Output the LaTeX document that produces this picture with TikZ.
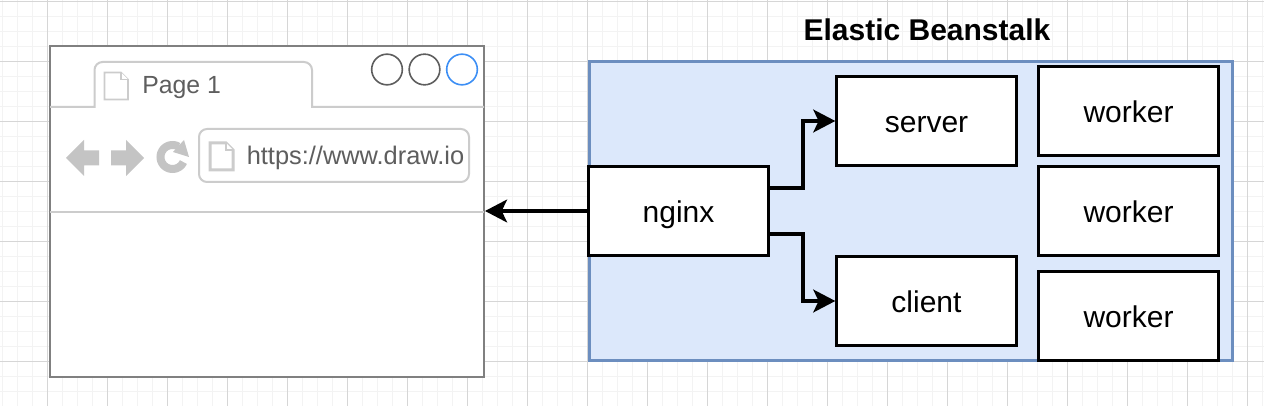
\documentclass[tikz,border=0pt]{standalone}
\usepackage{fontspec}
\setmainfont{Liberation Sans}
\usetikzlibrary{arrows.meta,calc}
\definecolor{gridminor}{HTML}{F3F3F3}
\definecolor{gridmajor}{HTML}{D6D6D6}
\definecolor{chrome}{HTML}{CCCCCC}
\definecolor{iconfill}{HTML}{C4C4C4}
\definecolor{txtgray}{HTML}{5E5E5E}
\definecolor{framegray}{HTML}{808080}
\definecolor{ebfill}{HTML}{DCE8FB}
\definecolor{ebline}{HTML}{6C8EBF}
\definecolor{btnblue}{HTML}{3D8FF5}
\tikzset{
  x=0.75pt, y=-0.75pt,
  boxnode/.style={draw=black, fill=white, line width=2.25pt, minimum width=134.5pt, minimum height=66.5pt, inner sep=0pt, text height=20.8pt, text depth=4pt, font=\fontsize{22.5}{26}\selectfont, text=black},
  conn/.style={draw=black, line width=3pt, -{Stealth[length=16.5pt,width=17pt,inset=4pt]}},
  winbtn/.style={draw=txtgray, line width=1.2pt, fill=white, circle, minimum size=23pt, inner sep=0pt},
  chromeline/.style={draw=chrome, line width=1.5pt},
  docicon/.style={draw=chrome, fill=white, line join=miter},
  navicon/.style={fill=iconfill, draw=none},
  graytext/.style={text=txtgray, inner sep=0pt, font=\fontsize{18.6}{22}\selectfont},
}
\begin{document}
\begin{tikzpicture}
\useasboundingbox (0,0) rectangle (1264,406);
\fill[white] (0,0) rectangle (1264,406);
% grid
\foreach \i in {0,...,84} {\draw[gridminor,line width=0.75pt] ({2.5+15*\i},0) -- ({2.5+15*\i},406);}
\foreach \i in {0,...,27} {\draw[gridminor,line width=0.75pt] (0,{1.5+15*\i}) -- (1264,{1.5+15*\i});}
\foreach \i in {0,...,20} {\draw[gridmajor,line width=0.75pt] ({47.5+60*\i},0) -- ({47.5+60*\i},406);}
\foreach \i in {0,...,6} {\draw[gridmajor,line width=0.75pt] (0,{1.5+60*\i}) -- (1264,{1.5+60*\i});}
% browser
\node[draw=framegray, fill=white, line width=1.5pt, minimum width=325.5pt, minimum height=248.25pt, inner sep=0pt] (browser) at (267,211.5) {};
\draw[chromeline] (50,107) -- (94.5,107) -- (94.5,70) arc[start angle=180,end angle=90,x radius=8,y radius=-8] -- (304,62) arc[start angle=90,end angle=0,x radius=8,y radius=-8] -- (312,107) -- (484,107);
\draw[chromeline] (50,212) -- (484,212);
\draw[docicon,line width=1.2pt] (104.5,72.5) -- (121,72.5) -- (128,79.5) -- (128,99.5) -- (104.5,99.5) -- cycle;
\draw[docicon,line width=0.8pt] (121,72.5) -- (121,79.5) -- (128,79.5);
\node[graytext, anchor=base west] (pagetext) at (142,94) {Page 1};
\node[winbtn] (btna) at (387,69.5) {};
\node[winbtn] (btnb) at (424.5,69.5) {};
\node[winbtn, draw=btnblue] (btnc) at (462,69.5) {};
% nav icons
\fill[navicon] (66,158) -- (84,140) -- (84,150.5) -- (99,150.5) -- (99,165.5) -- (84,165.5) -- (84,176) -- cycle;
\fill[navicon] (144,158) -- (126,140) -- (126,150.5) -- (111,150.5) -- (111,165.5) -- (126,165.5) -- (126,176) -- cycle;
\draw[iconfill,line width=6pt] plot[domain=-25:-300,samples=40,smooth] ({172.5+12*cos(\x)},{157-12*sin(\x)});
\fill[navicon] (184,140) -- (189,157) -- (173,152) -- cycle;
% url bar
\draw[chromeline, fill=white, rounded corners=6pt] (199,129) rectangle (469,182);
\draw[docicon,line width=2.25pt] (210,143) -- (226,143) -- (233,150) -- (233,170) -- (210,170) -- cycle;
\draw[docicon,line width=0.8pt] (226,143) -- (226,150) -- (233,150);
\node[graytext, anchor=base west, font=\fontsize{19.05}{22}\selectfont] (urltext) at (246.5,165) {https://www.draw.io};
% container
\node[draw=ebline, fill=ebfill, line width=2.25pt, minimum width=482pt, minimum height=224pt, inner sep=0pt] (eb) at (911,211) {};
\node[font=\bfseries\fontsize{22.5}{26}\selectfont, text=black, inner sep=0pt, anchor=base] (ebtitle) at (927,41) {Elastic Beanstalk};
% boxes
\node[boxnode] (nginx) at (678.5,211) {nginx};
\node[boxnode] (server) at (926.5,121) {server};
\node[boxnode] (client) at (926.5,301) {client};
\node[boxnode] (w1) at (1128.5,111) {worker};
\node[boxnode] (w2) at (1128.5,211) {worker};
\node[boxnode] (w3) at (1128.5,316) {worker};
% connectors
\draw[conn] (nginx.west) -- (nginx.west -| browser.east);
\draw[conn] ($(nginx.north east)!.25!(nginx.south east)$) -- ++(33,0) |- (server.west);
\draw[conn] ($(nginx.north east)!.75!(nginx.south east)$) -- ++(33,0) |- (client.west);
\end{tikzpicture}
\end{document}
